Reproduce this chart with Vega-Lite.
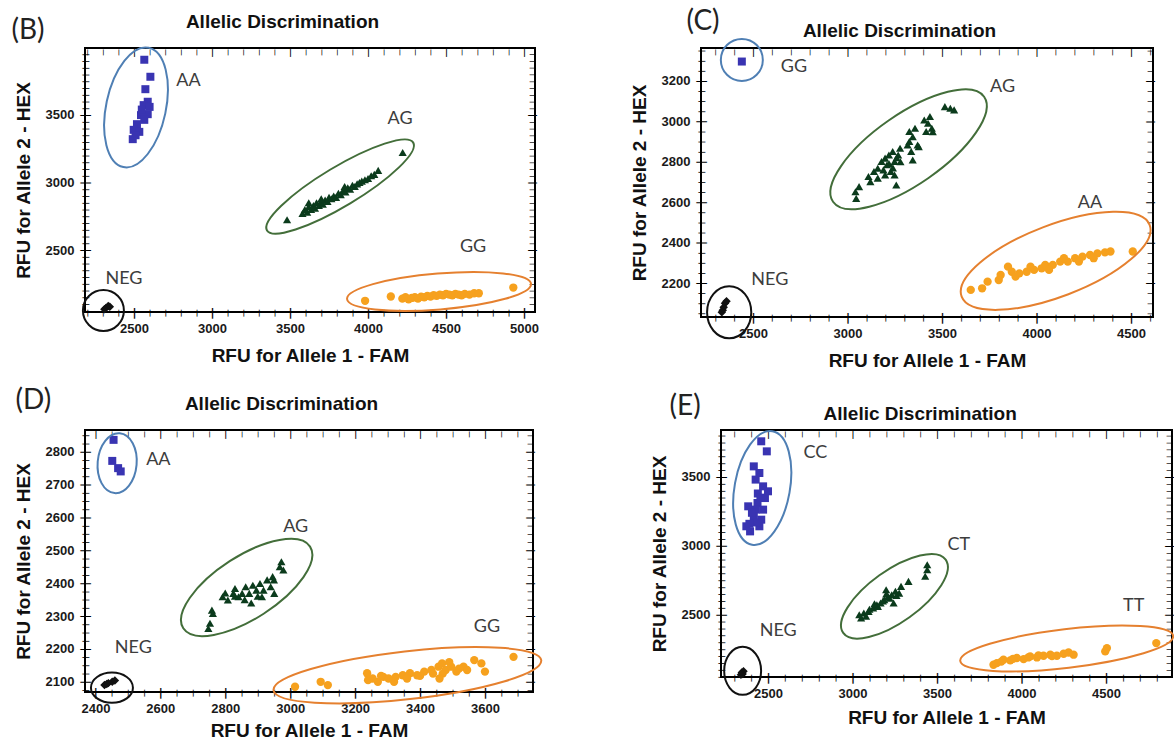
{
"$schema": "https://vega.github.io/schema/vega-lite/v6.json",
"padding": {"left": 10, "top": 6, "right": 0, "bottom": 0},
"background": "white",
"config": {
  "view": {"stroke": "#000", "strokeWidth": 2},
  "axis": {"domain": false, "grid": false, "ticks": false, "labelFont": "Liberation Sans", "labelFontSize": 13, "labelFontWeight": "bold", "labelColor": "#1a1a1a", "titleFont": "Liberation Sans", "titleFontSize": 19, "titleFontWeight": "bold", "titleColor": "#111", "labelFlush": false, "labelOverlap": false},
  "point": {"opacity": 1},
  "text": {"font": "Lato", "fontSize": 18, "color": "#3d3d3d"}
},
"datasets": {
  "B": [
    {"x":2566,"y":3909,"c":"HEX"},{"x":2605,"y":3783,"c":"HEX"},{"x":2573,"y":3691,"c":"HEX"},{"x":2588,"y":3598,"c":"HEX"},{"x":2562,"y":3573,"c":"HEX"},{"x":2588,"y":3506,"c":"HEX"},{"x":2545,"y":3499,"c":"HEX"},{"x":2566,"y":3464,"c":"HEX"},{"x":2519,"y":3432,"c":"HEX"},{"x":2498,"y":3390,"c":"HEX"},{"x":2534,"y":3375,"c":"HEX"},{"x":2492,"y":3321,"c":"HEX"},{"x":2550,"y":3540,"c":"HEX"},{"x":2600,"y":3560,"c":"HEX"},{"x":2510,"y":3350,"c":"HEX"},
    {"x":3481,"y":2724,"c":"HET"},{"x":4222,"y":3222,"c":"HET"},{"x":3580,"y":2770,"c":"HET"},{"x":3595,"y":2800,"c":"HET"},{"x":3610,"y":2780,"c":"HET"},{"x":3620,"y":2820,"c":"HET"},{"x":3635,"y":2800,"c":"HET"},{"x":3650,"y":2830,"c":"HET"},{"x":3660,"y":2810,"c":"HET"},{"x":3670,"y":2850,"c":"HET"},{"x":3685,"y":2830,"c":"HET"},{"x":3700,"y":2860,"c":"HET"},{"x":3710,"y":2840,"c":"HET"},{"x":3725,"y":2870,"c":"HET"},{"x":3740,"y":2860,"c":"HET"},{"x":3750,"y":2890,"c":"HET"},{"x":3765,"y":2880,"c":"HET"},{"x":3780,"y":2900,"c":"HET"},{"x":3795,"y":2890,"c":"HET"},{"x":3810,"y":2920,"c":"HET"},{"x":3825,"y":2910,"c":"HET"},{"x":3840,"y":2940,"c":"HET"},{"x":3855,"y":2930,"c":"HET"},{"x":3870,"y":2960,"c":"HET"},{"x":3885,"y":2950,"c":"HET"},{"x":3900,"y":2980,"c":"HET"},{"x":3915,"y":2970,"c":"HET"},{"x":3930,"y":2990,"c":"HET"},{"x":3945,"y":3000,"c":"HET"},{"x":3960,"y":3010,"c":"HET"},{"x":3980,"y":3020,"c":"HET"},{"x":4000,"y":3030,"c":"HET"},{"x":4020,"y":3050,"c":"HET"},{"x":4040,"y":3060,"c":"HET"},{"x":4065,"y":3090,"c":"HET"},{"x":3620,"y":2850,"c":"HET"},{"x":3700,"y":2880,"c":"HET"},{"x":3850,"y":2970,"c":"HET"},
    {"x":3981,"y":2124,"c":"FAM"},{"x":4146,"y":2156,"c":"FAM"},{"x":4220,"y":2140,"c":"FAM"},{"x":4240,"y":2150,"c":"FAM"},{"x":4260,"y":2135,"c":"FAM"},{"x":4280,"y":2145,"c":"FAM"},{"x":4300,"y":2150,"c":"FAM"},{"x":4320,"y":2140,"c":"FAM"},{"x":4340,"y":2155,"c":"FAM"},{"x":4360,"y":2150,"c":"FAM"},{"x":4380,"y":2160,"c":"FAM"},{"x":4400,"y":2155,"c":"FAM"},{"x":4420,"y":2165,"c":"FAM"},{"x":4440,"y":2160,"c":"FAM"},{"x":4460,"y":2170,"c":"FAM"},{"x":4480,"y":2165,"c":"FAM"},{"x":4500,"y":2175,"c":"FAM"},{"x":4520,"y":2170,"c":"FAM"},{"x":4540,"y":2165,"c":"FAM"},{"x":4560,"y":2175,"c":"FAM"},{"x":4580,"y":2170,"c":"FAM"},{"x":4600,"y":2165,"c":"FAM"},{"x":4620,"y":2175,"c":"FAM"},{"x":4650,"y":2170,"c":"FAM"},{"x":4680,"y":2180,"c":"FAM"},{"x":4710,"y":2180,"c":"FAM"},{"x":4931,"y":2222,"c":"FAM"},
    {"x":2320,"y":2070,"c":"NEG"},{"x":2335,"y":2085,"c":"NEG"},{"x":2345,"y":2080,"c":"NEG"},{"x":2310,"y":2062,"c":"NEG"}
  ],
  "BL": [{"x":2849,"y":3753,"t":"AA"},{"x":4205,"y":3469,"t":"AG"},{"x":4673,"y":2526,"t":"GG"},{"x":2436,"y":2284,"t":"NEG"}],
  "C": [
    {"x":2441,"y":3296,"c":"HEX"},
    {"x":3042,"y":2652,"c":"HET"},{"x":3046,"y":2619,"c":"HET"},{"x":3061,"y":2677,"c":"HET"},{"x":3111,"y":2727,"c":"HET"},{"x":3121,"y":2702,"c":"HET"},{"x":3140,"y":2752,"c":"HET"},{"x":3160,"y":2768,"c":"HET"},{"x":3180,"y":2801,"c":"HET"},{"x":3199,"y":2818,"c":"HET"},{"x":3209,"y":2785,"c":"HET"},{"x":3219,"y":2834,"c":"HET"},{"x":3229,"y":2752,"c":"HET"},{"x":3239,"y":2851,"c":"HET"},{"x":3249,"y":2801,"c":"HET"},{"x":3258,"y":2685,"c":"HET"},{"x":3268,"y":2834,"c":"HET"},{"x":3278,"y":2867,"c":"HET"},{"x":3249,"y":2735,"c":"HET"},{"x":3199,"y":2735,"c":"HET"},{"x":3160,"y":2719,"c":"HET"},{"x":3337,"y":2851,"c":"HET"},{"x":3327,"y":2900,"c":"HET"},{"x":3327,"y":2950,"c":"HET"},{"x":3377,"y":2875,"c":"HET"},{"x":3357,"y":2966,"c":"HET"},{"x":3416,"y":2950,"c":"HET"},{"x":3406,"y":3007,"c":"HET"},{"x":3436,"y":3024,"c":"HET"},{"x":3446,"y":2966,"c":"HET"},{"x":3426,"y":2991,"c":"HET"},{"x":3515,"y":3073,"c":"HET"},{"x":3544,"y":3065,"c":"HET"},{"x":3564,"y":3057,"c":"HET"},{"x":3318,"y":2883,"c":"HET"},{"x":3345,"y":2924,"c":"HET"},{"x":3371,"y":2883,"c":"HET"},{"x":3345,"y":2809,"c":"HET"},{"x":3451,"y":2949,"c":"HET"},{"x":3220,"y":2790,"c":"HET"},{"x":3240,"y":2770,"c":"HET"},{"x":3260,"y":2820,"c":"HET"},{"x":3190,"y":2760,"c":"HET"},{"x":3280,"y":2800,"c":"HET"},
    {"x":3652,"y":2166,"c":"FAM"},{"x":3712,"y":2174,"c":"FAM"},{"x":3741,"y":2207,"c":"FAM"},{"x":3800,"y":2215,"c":"FAM"},{"x":3849,"y":2281,"c":"FAM"},{"x":3869,"y":2256,"c":"FAM"},{"x":3909,"y":2248,"c":"FAM"},{"x":3948,"y":2256,"c":"FAM"},{"x":3987,"y":2265,"c":"FAM"},{"x":4027,"y":2273,"c":"FAM"},{"x":4046,"y":2290,"c":"FAM"},{"x":4086,"y":2290,"c":"FAM"},{"x":4125,"y":2306,"c":"FAM"},{"x":4165,"y":2306,"c":"FAM"},{"x":4204,"y":2323,"c":"FAM"},{"x":4243,"y":2331,"c":"FAM"},{"x":4283,"y":2339,"c":"FAM"},{"x":4322,"y":2347,"c":"FAM"},{"x":4362,"y":2352,"c":"FAM"},{"x":4391,"y":2356,"c":"FAM"},{"x":4509,"y":2356,"c":"FAM"},{"x":3810,"y":2240,"c":"FAM"},{"x":3889,"y":2232,"c":"FAM"},{"x":3968,"y":2281,"c":"FAM"},{"x":4066,"y":2265,"c":"FAM"},{"x":4145,"y":2323,"c":"FAM"},{"x":4224,"y":2306,"c":"FAM"},{"x":4302,"y":2323,"c":"FAM"},
    {"x":2352,"y":2100,"c":"NEG"},{"x":2345,"y":2080,"c":"NEG"},{"x":2340,"y":2065,"c":"NEG"},{"x":2360,"y":2110,"c":"NEG"},{"x":2335,"y":2055,"c":"NEG"}
  ],
  "CL": [{"x":2717,"y":3271,"t":"GG"},{"x":3820,"y":3172,"t":"AG"},{"x":4283,"y":2595,"t":"AA"},{"x":2589,"y":2215,"t":"NEG"}],
  "D": [
    {"x":2456,"y":2836,"c":"HEX"},{"x":2452,"y":2772,"c":"HEX"},{"x":2470,"y":2750,"c":"HEX"},{"x":2478,"y":2740,"c":"HEX"},
    {"x":2748,"y":2262,"c":"HET"},{"x":2753,"y":2278,"c":"HET"},{"x":2762,"y":2308,"c":"HET"},{"x":2759,"y":2318,"c":"HET"},{"x":2792,"y":2359,"c":"HET"},{"x":2808,"y":2349,"c":"HET"},{"x":2825,"y":2369,"c":"HET"},{"x":2830,"y":2384,"c":"HET"},{"x":2841,"y":2359,"c":"HET"},{"x":2852,"y":2369,"c":"HET"},{"x":2863,"y":2389,"c":"HET"},{"x":2874,"y":2369,"c":"HET"},{"x":2885,"y":2394,"c":"HET"},{"x":2896,"y":2379,"c":"HET"},{"x":2907,"y":2399,"c":"HET"},{"x":2913,"y":2359,"c":"HET"},{"x":2918,"y":2379,"c":"HET"},{"x":2929,"y":2410,"c":"HET"},{"x":2940,"y":2389,"c":"HET"},{"x":2946,"y":2420,"c":"HET"},{"x":2951,"y":2369,"c":"HET"},{"x":2968,"y":2450,"c":"HET"},{"x":2973,"y":2465,"c":"HET"},{"x":2979,"y":2440,"c":"HET"},{"x":2860,"y":2350,"c":"HET"},{"x":2880,"y":2340,"c":"HET"},{"x":2900,"y":2360,"c":"HET"},{"x":2950,"y":2410,"c":"HET"},{"x":2830,"y":2360,"c":"HET"},{"x":2800,"y":2370,"c":"HET"},
    {"x":3015,"y":2085,"c":"FAM"},{"x":3094,"y":2100,"c":"FAM"},{"x":3116,"y":2090,"c":"FAM"},{"x":3237,"y":2126,"c":"FAM"},{"x":3254,"y":2110,"c":"FAM"},{"x":3270,"y":2100,"c":"FAM"},{"x":3287,"y":2115,"c":"FAM"},{"x":3303,"y":2110,"c":"FAM"},{"x":3325,"y":2115,"c":"FAM"},{"x":3347,"y":2120,"c":"FAM"},{"x":3369,"y":2126,"c":"FAM"},{"x":3391,"y":2120,"c":"FAM"},{"x":3413,"y":2131,"c":"FAM"},{"x":3435,"y":2136,"c":"FAM"},{"x":3457,"y":2146,"c":"FAM"},{"x":3468,"y":2156,"c":"FAM"},{"x":3479,"y":2136,"c":"FAM"},{"x":3496,"y":2146,"c":"FAM"},{"x":3512,"y":2131,"c":"FAM"},{"x":3534,"y":2146,"c":"FAM"},{"x":3545,"y":2136,"c":"FAM"},{"x":3567,"y":2166,"c":"FAM"},{"x":3589,"y":2156,"c":"FAM"},{"x":3600,"y":2131,"c":"FAM"},{"x":3688,"y":2176,"c":"FAM"},{"x":3240,"y":2105,"c":"FAM"},{"x":3280,"y":2118,"c":"FAM"},{"x":3320,"y":2100,"c":"FAM"},{"x":3360,"y":2110,"c":"FAM"},{"x":3400,"y":2118,"c":"FAM"},{"x":3440,"y":2125,"c":"FAM"},{"x":3470,"y":2125,"c":"FAM"},{"x":3490,"y":2160,"c":"FAM"},{"x":3520,"y":2140,"c":"FAM"},{"x":3460,"y":2110,"c":"FAM"},
    {"x":2428,"y":2090,"c":"NEG"},{"x":2440,"y":2096,"c":"NEG"},{"x":2452,"y":2100,"c":"NEG"},{"x":2460,"y":2104,"c":"NEG"},{"x":2435,"y":2093,"c":"NEG"}
  ],
  "DL": [{"x":2594,"y":2775,"t":"AA"},{"x":3017,"y":2572,"t":"AG"},{"x":3606,"y":2268,"t":"GG"},{"x":2517,"y":2202,"t":"NEG"}],
  "E": [
    {"x":2460,"y":3759,"c":"HEX"},{"x":2493,"y":3686,"c":"HEX"},{"x":2416,"y":3577,"c":"HEX"},{"x":2449,"y":3529,"c":"HEX"},{"x":2427,"y":3481,"c":"HEX"},{"x":2471,"y":3432,"c":"HEX"},{"x":2500,"y":3396,"c":"HEX"},{"x":2482,"y":3347,"c":"HEX"},{"x":2438,"y":3311,"c":"HEX"},{"x":2383,"y":3287,"c":"HEX"},{"x":2427,"y":3263,"c":"HEX"},{"x":2471,"y":3263,"c":"HEX"},{"x":2416,"y":3214,"c":"HEX"},{"x":2460,"y":3190,"c":"HEX"},{"x":2372,"y":3142,"c":"HEX"},{"x":2449,"y":3142,"c":"HEX"},{"x":2394,"y":3105,"c":"HEX"},{"x":2440,"y":3380,"c":"HEX"},{"x":2455,"y":3350,"c":"HEX"},{"x":2405,"y":3240,"c":"HEX"},{"x":2430,"y":3170,"c":"HEX"},{"x":2390,"y":3160,"c":"HEX"},
    {"x":3051,"y":2476,"c":"HET"},{"x":3067,"y":2512,"c":"HET"},{"x":3095,"y":2524,"c":"HET"},{"x":3122,"y":2549,"c":"HET"},{"x":3144,"y":2573,"c":"HET"},{"x":3166,"y":2585,"c":"HET"},{"x":3188,"y":2609,"c":"HET"},{"x":3210,"y":2633,"c":"HET"},{"x":3199,"y":2682,"c":"HET"},{"x":3232,"y":2645,"c":"HET"},{"x":3243,"y":2585,"c":"HET"},{"x":3254,"y":2670,"c":"HET"},{"x":3276,"y":2657,"c":"HET"},{"x":3287,"y":2706,"c":"HET"},{"x":3331,"y":2742,"c":"HET"},{"x":3430,"y":2779,"c":"HET"},{"x":3442,"y":2827,"c":"HET"},{"x":3442,"y":2863,"c":"HET"},{"x":3100,"y":2540,"c":"HET"},{"x":3150,"y":2560,"c":"HET"},{"x":3180,"y":2600,"c":"HET"},{"x":3220,"y":2620,"c":"HET"},{"x":3260,"y":2640,"c":"HET"},{"x":3040,"y":2500,"c":"HET"},{"x":3080,"y":2490,"c":"HET"},{"x":3130,"y":2580,"c":"HET"},{"x":3200,"y":2650,"c":"HET"},
    {"x":3834,"y":2137,"c":"FAM"},{"x":3854,"y":2149,"c":"FAM"},{"x":3893,"y":2173,"c":"FAM"},{"x":3933,"y":2169,"c":"FAM"},{"x":3972,"y":2186,"c":"FAM"},{"x":4012,"y":2178,"c":"FAM"},{"x":4051,"y":2198,"c":"FAM"},{"x":4091,"y":2190,"c":"FAM"},{"x":4130,"y":2202,"c":"FAM"},{"x":4170,"y":2210,"c":"FAM"},{"x":4209,"y":2202,"c":"FAM"},{"x":4249,"y":2217,"c":"FAM"},{"x":4278,"y":2226,"c":"FAM"},{"x":4308,"y":2210,"c":"FAM"},{"x":4495,"y":2234,"c":"FAM"},{"x":4505,"y":2258,"c":"FAM"},{"x":4797,"y":2294,"c":"FAM"},{"x":3880,"y":2160,"c":"FAM"},{"x":3950,"y":2180,"c":"FAM"},{"x":4040,"y":2190,"c":"FAM"},{"x":4100,"y":2205,"c":"FAM"},{"x":4180,"y":2200,"c":"FAM"},
    {"x":2345,"y":2080,"c":"NEG"},{"x":2355,"y":2090,"c":"NEG"},{"x":2350,"y":2070,"c":"NEG"},{"x":2340,"y":2065,"c":"NEG"}
  ],
  "EL": [{"x":2780,"y":3674,"t":"CC"},{"x":3629,"y":3009,"t":"CT"},{"x":4663,"y":2561,"t":"TT"},{"x":2560,"y":2379,"t":"NEG"}]
},
"vconcat": [
 {"hconcat": [
  {"width": 450, "height": 264,
   "resolve": {"axis": {"x": "independent", "y": "independent"}},
   "layer": [
    {"data": {"name": "B"}, "mark": {"type": "point", "filled": true},
     "encoding": {
       "x": {"field": "x", "type": "quantitative", "scale": {"domain": [2186, 5070], "nice": false, "zero": false},
             "axis": {"orient": "bottom", "values": [2500,3000,3500,4000,4500,5000], "format": "d", "labelPadding": 10, "title": "RFU for Allele 1 - FAM", "titlePadding": 11}},
       "y": {"field": "y", "type": "quantitative", "scale": {"domain": [2041, 3996], "nice": false, "zero": false},
             "axis": {"orient": "left", "values": [2500,3000,3500], "format": "d", "labelPadding": 11, "title": "RFU for Allele 2 - HEX", "titlePadding": 12}},
       "shape": {"field": "c", "type": "nominal", "scale": {"domain": ["HEX","HET","FAM","NEG"], "range": ["square","triangle-up","circle","diamond"]}, "legend": null},
       "color": {"field": "c", "type": "nominal", "scale": {"domain": ["HEX","HET","FAM","NEG"], "range": ["#3934b2","#0b3b1c","#f6a11e","#111111"]}, "legend": null},
       "size": {"field": "c", "type": "ordinal", "scale": {"domain": ["HEX","HET","FAM","NEG"], "range": [64,72,58,44]}, "legend": null}
     }},
    {"data": {"name": "BL"}, "mark": {"type": "text"},
     "encoding": {
       "x": {"field": "x", "type": "quantitative", "axis": {"orient": "bottom", "values": [2500,3000,3500,4000,4500,5000], "labelExpr": "'|'", "labelFont": "DejaVu Sans", "labelFontSize": 11, "labelColor": "#000", "labelBaseline": "middle", "labelAlign": "center", "labelPadding": 0, "title": null}},
       "y": {"field": "y", "type": "quantitative", "axis": {"orient": "left", "values": [2500,3000,3500], "labelExpr": "'|'", "labelFont": "DejaVu Sans", "labelFontSize": 11, "labelColor": "#000", "labelAngle": 90, "labelBaseline": "middle", "labelAlign": "center", "labelPadding": 0, "title": null}},
       "text": {"field": "t"}
     }},
    {"data": {"values": [{"x": 2513, "y": 3556}]},
     "mark": {"type": "point", "shape": "M -1 0 A 1 0.49 0 1 1 1 0 A 1 0.49 0 1 1 -1 0 Z", "size": 14884, "angle": -78, "filled": false, "color": "#4f7fb4", "strokeWidth": 2},
     "encoding": {
       "x": {"field": "x", "type": "quantitative", "axis": {"orient": "bottom", "values": [2200,2300,2400,2600,2700,2800,2900,3100,3200,3300,3400,3600,3700,3800,3900,4100,4200,4300,4400,4600,4700,4800,4900], "labelExpr": "'|'", "labelFont": "DejaVu Sans", "labelFontSize": 7, "labelColor": "#000", "labelBaseline": "middle", "labelAlign": "center", "labelPadding": 0, "title": null}},
       "y": {"field": "y", "type": "quantitative", "axis": {"orient": "left", "values": [2050,2100,2150,2200,2250,2300,2350,2400,2450,2550,2600,2650,2700,2750,2800,2850,2900,2950,3050,3100,3150,3200,3250,3300,3350,3400,3450,3550,3600,3650,3700,3750,3800,3850,3900,3950], "labelExpr": "'|'", "labelFont": "DejaVu Sans", "labelFontSize": 7, "labelColor": "#000", "labelAngle": 90, "labelBaseline": "middle", "labelAlign": "center", "labelPadding": 0, "title": null}}
     }},
    {"data": {"values": [{"x": 3821, "y": 2970}]},
     "mark": {"type": "point", "shape": "M -1 0 A 1 0.23 0 1 1 1 0 A 1 0.23 0 1 1 -1 0 Z", "size": 29104, "angle": -31, "filled": false, "color": "#436e3a", "strokeWidth": 2},
     "encoding": {
       "x": {"field": "x", "type": "quantitative", "axis": {"orient": "top", "values": [2500,3000,3500,4000,4500,5000], "labelExpr": "'|'", "labelFont": "DejaVu Sans", "labelFontSize": 8, "labelColor": "#000", "labelBaseline": "middle", "labelAlign": "center", "labelPadding": -4, "title": "Allelic Discrimination", "titleX": 197, "titleY": -26.5, "titleAlign": "center", "titleBaseline": "middle"}},
       "y": {"field": "y", "type": "quantitative", "axis": {"orient": "right", "values": [2500,3000,3500], "labelExpr": "'|'", "labelFont": "DejaVu Sans", "labelFontSize": 8, "labelColor": "#000", "labelAngle": 90, "labelBaseline": "middle", "labelAlign": "center", "labelPadding": -4, "title": null}}
     }},
    {"data": {"values": [{"x": 4455, "y": 2193}]},
     "mark": {"type": "point", "shape": "M -1 0 A 1 0.195 0 1 1 1 0 A 1 0.195 0 1 1 -1 0 Z", "size": 34077, "angle": -4.7, "filled": false, "color": "#e5802f", "strokeWidth": 2},
     "encoding": {
       "x": {"field": "x", "type": "quantitative", "axis": {"orient": "top", "values": [2200,2300,2400,2600,2700,2800,2900,3100,3200,3300,3400,3600,3700,3800,3900,4100,4200,4300,4400,4600,4700,4800,4900], "labelExpr": "'|'", "labelFont": "DejaVu Sans", "labelFontSize": 6, "labelColor": "#000", "labelBaseline": "middle", "labelAlign": "center", "labelPadding": -3, "title": "(B)", "titleX": -74, "titleY": -4, "titleAlign": "left", "titleBaseline": "bottom", "titleFont": "Lato", "titleFontSize": 28, "titleFontWeight": "normal", "titleColor": "#222"}},
       "y": {"field": "y", "type": "quantitative", "axis": {"orient": "right", "values": [2050,2100,2150,2200,2250,2300,2350,2400,2450,2550,2600,2650,2700,2750,2800,2850,2900,2950,3050,3100,3150,3200,3250,3300,3350,3400,3450,3550,3600,3650,3700,3750,3800,3850,3900,3950], "labelExpr": "'|'", "labelFont": "DejaVu Sans", "labelFontSize": 6, "labelColor": "#000", "labelAngle": 90, "labelBaseline": "middle", "labelAlign": "center", "labelPadding": -3, "title": null}}
     }},
    {"data": {"values": [{"x": 2304, "y": 2052}]},
     "mark": {"type": "point", "shape": "M -1 0 A 1 1 0 1 1 1 0 A 1 1 0 1 1 -1 0 Z", "size": 1681, "filled": false, "color": "#111", "strokeWidth": 2},
     "encoding": {"x": {"field": "x", "type": "quantitative", "axis": null}, "y": {"field": "y", "type": "quantitative", "axis": null}}}
   ]},
  {"width": 452, "height": 269,
   "resolve": {"axis": {"x": "independent", "y": "independent"}},
   "layer": [
    {"data": {"name": "C"}, "mark": {"type": "point", "filled": true},
     "encoding": {
       "x": {"field": "x", "type": "quantitative", "scale": {"domain": [2225, 4616], "nice": false, "zero": false},
             "axis": {"orient": "bottom", "values": [2500,3000,3500,4000,4500], "format": "d", "labelPadding": 10, "title": "RFU for Allele 1 - FAM", "titlePadding": 11}},
       "y": {"field": "y", "type": "quantitative", "scale": {"domain": [2032, 3363], "nice": false, "zero": false},
             "axis": {"orient": "left", "values": [2200,2400,2600,2800,3000,3200], "format": "d", "labelPadding": 11, "title": "RFU for Allele 2 - HEX", "titlePadding": 12}},
       "shape": {"field": "c", "type": "nominal", "scale": {"domain": ["HEX","HET","FAM","NEG"], "range": ["square","triangle-up","circle","diamond"]}, "legend": null},
       "color": {"field": "c", "type": "nominal", "scale": {"domain": ["HEX","HET","FAM","NEG"], "range": ["#3934b2","#0b3b1c","#f6a11e","#111111"]}, "legend": null},
       "size": {"field": "c", "type": "ordinal", "scale": {"domain": ["HEX","HET","FAM","NEG"], "range": [64,72,58,44]}, "legend": null}
     }},
    {"data": {"name": "CL"}, "mark": {"type": "text"},
     "encoding": {
       "x": {"field": "x", "type": "quantitative", "axis": {"orient": "bottom", "values": [2500,3000,3500,4000,4500], "labelExpr": "'|'", "labelFont": "DejaVu Sans", "labelFontSize": 11, "labelColor": "#000", "labelBaseline": "middle", "labelAlign": "center", "labelPadding": 0, "title": null}},
       "y": {"field": "y", "type": "quantitative", "axis": {"orient": "left", "values": [2200,2400,2600,2800,3000,3200], "labelExpr": "'|'", "labelFont": "DejaVu Sans", "labelFontSize": 11, "labelColor": "#000", "labelAngle": 90, "labelBaseline": "middle", "labelAlign": "center", "labelPadding": 0, "title": null}},
       "text": {"field": "t"}
     }},
    {"data": {"values": [{"x": 2441, "y": 3304}]},
     "mark": {"type": "point", "shape": "M -1 0 A 1 1 0 1 1 1 0 A 1 1 0 1 1 -1 0 Z", "size": 1764, "filled": false, "color": "#4f7fb4", "strokeWidth": 2},
     "encoding": {
       "x": {"field": "x", "type": "quantitative", "axis": {"orient": "bottom", "values": [2300,2400,2600,2700,2800,2900,3100,3200,3300,3400,3600,3700,3800,3900,4100,4200,4300,4400,4600], "labelExpr": "'|'", "labelFont": "DejaVu Sans", "labelFontSize": 7, "labelColor": "#000", "labelBaseline": "middle", "labelAlign": "center", "labelPadding": 0, "title": null}},
       "y": {"field": "y", "type": "quantitative", "axis": {"orient": "left", "values": [2050,2100,2150,2250,2300,2350,2450,2500,2550,2650,2700,2750,2850,2900,2950,3050,3100,3150,3250,3300,3350], "labelExpr": "'|'", "labelFont": "DejaVu Sans", "labelFontSize": 7, "labelColor": "#000", "labelAngle": 90, "labelBaseline": "middle", "labelAlign": "center", "labelPadding": 0, "title": null}}
     }},
    {"data": {"values": [{"x": 3323, "y": 2862}]},
     "mark": {"type": "point", "shape": "M -1 0 A 1 0.38 0 1 1 1 0 A 1 0.38 0 1 1 -1 0 Z", "size": 33856, "angle": -34.8, "filled": false, "color": "#436e3a", "strokeWidth": 2},
     "encoding": {
       "x": {"field": "x", "type": "quantitative", "axis": {"orient": "top", "values": [2500,3000,3500,4000,4500], "labelExpr": "'|'", "labelFont": "DejaVu Sans", "labelFontSize": 8, "labelColor": "#000", "labelBaseline": "middle", "labelAlign": "center", "labelPadding": -4, "title": "Allelic Discrimination", "titleX": 198, "titleY": -18, "titleAlign": "center", "titleBaseline": "middle"}},
       "y": {"field": "y", "type": "quantitative", "axis": {"orient": "right", "values": [2200,2400,2600,2800,3000,3200], "labelExpr": "'|'", "labelFont": "DejaVu Sans", "labelFontSize": 8, "labelColor": "#000", "labelAngle": 90, "labelBaseline": "middle", "labelAlign": "center", "labelPadding": -4, "title": null}}
     }},
    {"data": {"values": [{"x": 4101, "y": 2310}]},
     "mark": {"type": "point", "shape": "M -1 0 A 1 0.356 0 1 1 1 0 A 1 0.356 0 1 1 -1 0 Z", "size": 40481, "angle": -20.9, "filled": false, "color": "#e5802f", "strokeWidth": 2},
     "encoding": {
       "x": {"field": "x", "type": "quantitative", "axis": {"orient": "top", "values": [2300,2400,2600,2700,2800,2900,3100,3200,3300,3400,3600,3700,3800,3900,4100,4200,4300,4400,4600], "labelExpr": "'|'", "labelFont": "DejaVu Sans", "labelFontSize": 6, "labelColor": "#000", "labelBaseline": "middle", "labelAlign": "center", "labelPadding": -3, "title": "(C)", "titleX": -15, "titleY": -13, "titleAlign": "left", "titleBaseline": "bottom", "titleFont": "Lato", "titleFontSize": 28, "titleFontWeight": "normal", "titleColor": "#222"}},
       "y": {"field": "y", "type": "quantitative", "axis": {"orient": "right", "values": [2050,2100,2150,2250,2300,2350,2450,2500,2550,2650,2700,2750,2850,2900,2950,3050,3100,3150,3250,3300,3350], "labelExpr": "'|'", "labelFont": "DejaVu Sans", "labelFontSize": 6, "labelColor": "#000", "labelAngle": 90, "labelBaseline": "middle", "labelAlign": "center", "labelPadding": -3, "title": null}}
     }},
    {"data": {"values": [{"x": 2374, "y": 2055}]},
     "mark": {"type": "point", "shape": "M -1 0 A 1 0.85 0 1 1 1 0 A 1 0.85 0 1 1 -1 0 Z", "size": 2704, "angle": 90, "filled": false, "color": "#111", "strokeWidth": 2},
     "encoding": {"x": {"field": "x", "type": "quantitative", "axis": null}, "y": {"field": "y", "type": "quantitative", "axis": null}}}
   ]}
 ], "spacing": 166, "bounds": "flush"},
 {"hconcat": [
  {"width": 448, "height": 262,
   "resolve": {"axis": {"x": "independent", "y": "independent"}},
   "layer": [
    {"data": {"name": "D"}, "mark": {"type": "point", "filled": true},
     "encoding": {
       "x": {"field": "x", "type": "quantitative", "scale": {"domain": [2368, 3748], "nice": false, "zero": false},
             "axis": {"orient": "bottom", "values": [2400,2600,2800,3000,3200,3400,3600], "format": "d", "labelPadding": 10, "title": "RFU for Allele 1 - FAM", "titlePadding": 6}},
       "y": {"field": "y", "type": "quantitative", "scale": {"domain": [2069, 2866], "nice": false, "zero": false},
             "axis": {"orient": "left", "values": [2100,2200,2300,2400,2500,2600,2700,2800], "format": "d", "labelPadding": 11, "title": "RFU for Allele 2 - HEX", "titlePadding": 12}},
       "shape": {"field": "c", "type": "nominal", "scale": {"domain": ["HEX","HET","FAM","NEG"], "range": ["square","triangle-up","circle","diamond"]}, "legend": null},
       "color": {"field": "c", "type": "nominal", "scale": {"domain": ["HEX","HET","FAM","NEG"], "range": ["#3934b2","#0b3b1c","#f6a11e","#111111"]}, "legend": null},
       "size": {"field": "c", "type": "ordinal", "scale": {"domain": ["HEX","HET","FAM","NEG"], "range": [64,72,58,44]}, "legend": null}
     }},
    {"data": {"name": "DL"}, "mark": {"type": "text"},
     "encoding": {
       "x": {"field": "x", "type": "quantitative", "axis": {"orient": "bottom", "values": [2400,2600,2800,3000,3200,3400,3600], "labelExpr": "'|'", "labelFont": "DejaVu Sans", "labelFontSize": 11, "labelColor": "#000", "labelBaseline": "middle", "labelAlign": "center", "labelPadding": 0, "title": null}},
       "y": {"field": "y", "type": "quantitative", "axis": {"orient": "left", "values": [2100,2200,2300,2400,2500,2600,2700,2800], "labelExpr": "'|'", "labelFont": "DejaVu Sans", "labelFontSize": 11, "labelColor": "#000", "labelAngle": 90, "labelBaseline": "middle", "labelAlign": "center", "labelPadding": 0, "title": null}},
       "text": {"field": "t"}
     }},
    {"data": {"values": [{"x": 2467, "y": 2765}]},
     "mark": {"type": "point", "shape": "M -1 0 A 1 0.65 0 1 1 1 0 A 1 0.65 0 1 1 -1 0 Z", "size": 3600, "angle": -85, "filled": false, "color": "#4f7fb4", "strokeWidth": 2},
     "encoding": {
       "x": {"field": "x", "type": "quantitative", "axis": {"orient": "bottom", "values": [2450,2500,2550,2650,2700,2750,2850,2900,2950,3050,3100,3150,3250,3300,3350,3450,3500,3550,3650,3700], "labelExpr": "'|'", "labelFont": "DejaVu Sans", "labelFontSize": 7, "labelColor": "#000", "labelBaseline": "middle", "labelAlign": "center", "labelPadding": 0, "title": null}},
       "y": {"field": "y", "type": "quantitative", "axis": {"orient": "left", "values": [2075,2125,2150,2175,2225,2250,2275,2325,2350,2375,2425,2450,2475,2525,2550,2575,2625,2650,2675,2725,2750,2775,2825,2850], "labelExpr": "'|'", "labelFont": "DejaVu Sans", "labelFontSize": 7, "labelColor": "#000", "labelAngle": 90, "labelBaseline": "middle", "labelAlign": "center", "labelPadding": 0, "title": null}}
     }},
    {"data": {"values": [{"x": 2866, "y": 2387}]},
     "mark": {"type": "point", "shape": "M -1 0 A 1 0.415 0 1 1 1 0 A 1 0.415 0 1 1 -1 0 Z", "size": 22741, "angle": -32.8, "filled": false, "color": "#436e3a", "strokeWidth": 2},
     "encoding": {
       "x": {"field": "x", "type": "quantitative", "axis": {"orient": "top", "values": [2400,2600,2800,3000,3200,3400,3600], "labelExpr": "'|'", "labelFont": "DejaVu Sans", "labelFontSize": 8, "labelColor": "#000", "labelBaseline": "middle", "labelAlign": "center", "labelPadding": -4, "title": "Allelic Discrimination", "titleX": 196, "titleY": -27, "titleAlign": "center", "titleBaseline": "middle"}},
       "y": {"field": "y", "type": "quantitative", "axis": {"orient": "right", "values": [2100,2200,2300,2400,2500,2600,2700,2800], "labelExpr": "'|'", "labelFont": "DejaVu Sans", "labelFontSize": 8, "labelColor": "#000", "labelAngle": 90, "labelBaseline": "middle", "labelAlign": "center", "labelPadding": -4, "title": null}}
     }},
    {"data": {"values": [{"x": 3361, "y": 2120}]},
     "mark": {"type": "point", "shape": "M -1 0 A 1 0.178 0 1 1 1 0 A 1 0.178 0 1 1 -1 0 Z", "size": 72577, "angle": -6.4, "filled": false, "color": "#e5802f", "strokeWidth": 2},
     "encoding": {
       "x": {"field": "x", "type": "quantitative", "axis": {"orient": "top", "values": [2450,2500,2550,2650,2700,2750,2850,2900,2950,3050,3100,3150,3250,3300,3350,3450,3500,3550,3650,3700], "labelExpr": "'|'", "labelFont": "DejaVu Sans", "labelFontSize": 6, "labelColor": "#000", "labelBaseline": "middle", "labelAlign": "center", "labelPadding": -3, "title": "(D)", "titleX": -70, "titleY": -16, "titleAlign": "left", "titleBaseline": "bottom", "titleFont": "Lato", "titleFontSize": 28, "titleFontWeight": "normal", "titleColor": "#222"}},
       "y": {"field": "y", "type": "quantitative", "axis": {"orient": "right", "values": [2075,2125,2150,2175,2225,2250,2275,2325,2350,2375,2425,2450,2475,2525,2550,2575,2625,2650,2675,2725,2750,2775,2825,2850], "labelExpr": "'|'", "labelFont": "DejaVu Sans", "labelFontSize": 6, "labelColor": "#000", "labelAngle": 90, "labelBaseline": "middle", "labelAlign": "center", "labelPadding": -3, "title": null}}
     }},
    {"data": {"values": [{"x": 2451, "y": 2082}]},
     "mark": {"type": "point", "shape": "M -1 0 A 1 0.72 0 1 1 1 0 A 1 0.72 0 1 1 -1 0 Z", "size": 1764, "filled": false, "color": "#111", "strokeWidth": 2},
     "encoding": {"x": {"field": "x", "type": "quantitative", "axis": null}, "y": {"field": "y", "type": "quantitative", "axis": null}}}
   ]},
  {"width": 451, "height": 247,
   "resolve": {"axis": {"x": "independent", "y": "independent"}},
   "layer": [
    {"data": {"name": "E"}, "mark": {"type": "point", "filled": true},
     "encoding": {
       "x": {"field": "x", "type": "quantitative", "scale": {"domain": [2222, 4890], "nice": false, "zero": false},
             "axis": {"orient": "bottom", "values": [2500,3000,3500,4000,4500], "format": "d", "labelPadding": 10, "title": "RFU for Allele 1 - FAM", "titlePadding": 8}},
       "y": {"field": "y", "type": "quantitative", "scale": {"domain": [2048, 3841], "nice": false, "zero": false},
             "axis": {"orient": "left", "values": [2500,3000,3500], "format": "d", "labelPadding": 11, "title": "RFU for Allele 2 - HEX", "titlePadding": 12}},
       "shape": {"field": "c", "type": "nominal", "scale": {"domain": ["HEX","HET","FAM","NEG"], "range": ["square","triangle-up","circle","diamond"]}, "legend": null},
       "color": {"field": "c", "type": "nominal", "scale": {"domain": ["HEX","HET","FAM","NEG"], "range": ["#3934b2","#0b3b1c","#f6a11e","#111111"]}, "legend": null},
       "size": {"field": "c", "type": "ordinal", "scale": {"domain": ["HEX","HET","FAM","NEG"], "range": [64,72,58,44]}, "legend": null}
     }},
    {"data": {"name": "EL"}, "mark": {"type": "text"},
     "encoding": {
       "x": {"field": "x", "type": "quantitative", "axis": {"orient": "bottom", "values": [2500,3000,3500,4000,4500], "labelExpr": "'|'", "labelFont": "DejaVu Sans", "labelFontSize": 11, "labelColor": "#000", "labelBaseline": "middle", "labelAlign": "center", "labelPadding": 0, "title": null}},
       "y": {"field": "y", "type": "quantitative", "axis": {"orient": "left", "values": [2500,3000,3500], "labelExpr": "'|'", "labelFont": "DejaVu Sans", "labelFontSize": 11, "labelColor": "#000", "labelAngle": 90, "labelBaseline": "middle", "labelAlign": "center", "labelPadding": 0, "title": null}},
       "text": {"field": "t"}
     }},
    {"data": {"values": [{"x": 2466, "y": 3420}]},
     "mark": {"type": "point", "shape": "M -1 0 A 1 0.48 0 1 1 1 0 A 1 0.48 0 1 1 -1 0 Z", "size": 13271, "angle": -79.8, "filled": false, "color": "#4f7fb4", "strokeWidth": 2},
     "encoding": {
       "x": {"field": "x", "type": "quantitative", "axis": {"orient": "bottom", "values": [2300,2400,2600,2700,2800,2900,3100,3200,3300,3400,3600,3700,3800,3900,4100,4200,4300,4400,4600,4700,4800], "labelExpr": "'|'", "labelFont": "DejaVu Sans", "labelFontSize": 7, "labelColor": "#000", "labelBaseline": "middle", "labelAlign": "center", "labelPadding": 0, "title": null}},
       "y": {"field": "y", "type": "quantitative", "axis": {"orient": "left", "values": [2050,2100,2150,2200,2250,2300,2350,2400,2450,2550,2600,2650,2700,2750,2800,2850,2900,2950,3050,3100,3150,3200,3250,3300,3350,3400,3450,3550,3600,3650,3700,3750,3800], "labelExpr": "'|'", "labelFont": "DejaVu Sans", "labelFontSize": 7, "labelColor": "#000", "labelAngle": 90, "labelBaseline": "middle", "labelAlign": "center", "labelPadding": 0, "title": null}}
     }},
    {"data": {"values": [{"x": 3248, "y": 2634}]},
     "mark": {"type": "point", "shape": "M -1 0 A 1 0.41 0 1 1 1 0 A 1 0.41 0 1 1 -1 0 Z", "size": 15876, "angle": -35.6, "filled": false, "color": "#436e3a", "strokeWidth": 2},
     "encoding": {
       "x": {"field": "x", "type": "quantitative", "axis": {"orient": "top", "values": [2500,3000,3500,4000,4500], "labelExpr": "'|'", "labelFont": "DejaVu Sans", "labelFontSize": 8, "labelColor": "#000", "labelBaseline": "middle", "labelAlign": "center", "labelPadding": -4, "title": "Allelic Discrimination", "titleX": 198.7, "titleY": -17, "titleAlign": "center", "titleBaseline": "middle"}},
       "y": {"field": "y", "type": "quantitative", "axis": {"orient": "right", "values": [2500,3000,3500], "labelExpr": "'|'", "labelFont": "DejaVu Sans", "labelFontSize": 8, "labelColor": "#000", "labelAngle": 90, "labelBaseline": "middle", "labelAlign": "center", "labelPadding": -4, "title": null}}
     }},
    {"data": {"values": [{"x": 4267, "y": 2255}]},
     "mark": {"type": "point", "shape": "M -1 0 A 1 0.18 0 1 1 1 0 A 1 0.18 0 1 1 -1 0 Z", "size": 45967, "angle": -6.7, "filled": false, "color": "#e5802f", "strokeWidth": 2},
     "encoding": {
       "x": {"field": "x", "type": "quantitative", "axis": {"orient": "top", "values": [2300,2400,2600,2700,2800,2900,3100,3200,3300,3400,3600,3700,3800,3900,4100,4200,4300,4400,4600,4700,4800], "labelExpr": "'|'", "labelFont": "DejaVu Sans", "labelFontSize": 6, "labelColor": "#000", "labelBaseline": "middle", "labelAlign": "center", "labelPadding": -3, "title": "(E)", "titleX": -52, "titleY": -9.5, "titleAlign": "left", "titleBaseline": "bottom", "titleFont": "Lato", "titleFontSize": 28, "titleFontWeight": "normal", "titleColor": "#222"}},
       "y": {"field": "y", "type": "quantitative", "axis": {"orient": "right", "values": [2050,2100,2150,2200,2250,2300,2350,2400,2450,2550,2600,2650,2700,2750,2800,2850,2900,2950,3050,3100,3150,3200,3250,3300,3350,3400,3450,3550,3600,3650,3700,3750,3800], "labelExpr": "'|'", "labelFont": "DejaVu Sans", "labelFontSize": 6, "labelColor": "#000", "labelAngle": 90, "labelBaseline": "middle", "labelAlign": "center", "labelPadding": -3, "title": null}}
     }},
    {"data": {"values": [{"x": 2350, "y": 2093}]},
     "mark": {"type": "point", "shape": "M -1 0 A 1 0.77 0 1 1 1 0 A 1 0.77 0 1 1 -1 0 Z", "size": 2304, "angle": 90, "filled": false, "color": "#111", "strokeWidth": 2},
     "encoding": {"x": {"field": "x", "type": "quantitative", "axis": null}, "y": {"field": "y", "type": "quantitative", "axis": null}}}
   ]}
 ], "spacing": 188, "bounds": "flush"}
],
"spacing": 14
}
